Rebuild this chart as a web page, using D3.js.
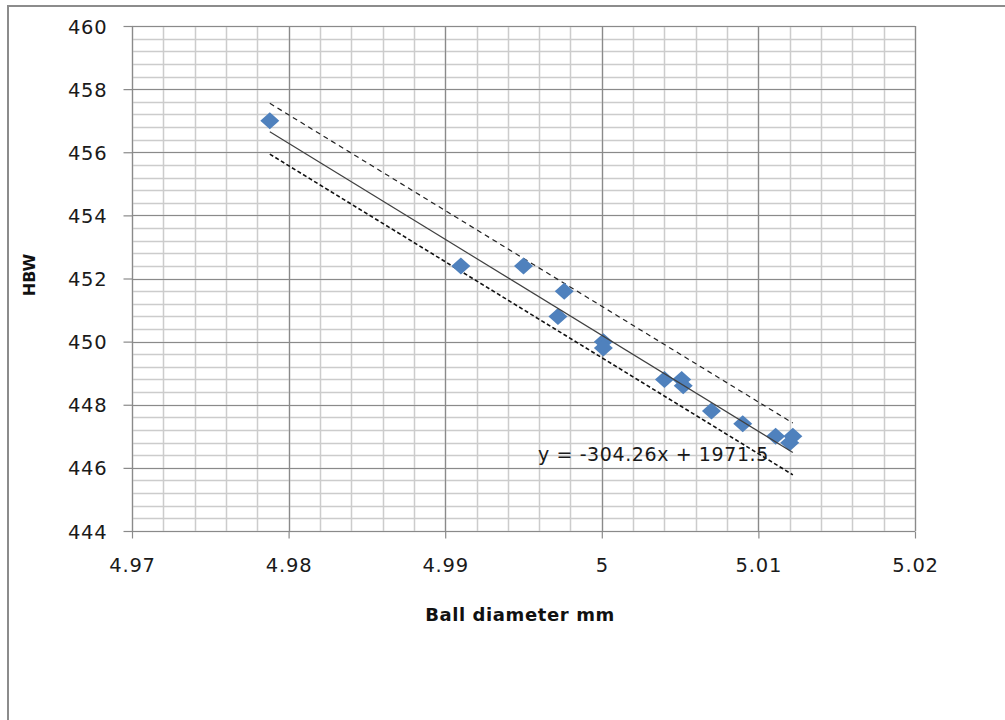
<!DOCTYPE html>
<html>
<head>
<meta charset="utf-8">
<script src="https://cdn.jsdelivr.net/npm/d3@7"></script>
<style>
  body { margin: 0; background: #fff; }
</style>
</head>
<body>
<div id="chart"></div>
<script>
// ball diameter (mm) vs hardness HBW
var diameters = [4.9788, 4.9910, 4.9950, 4.9976, 4.9972, 5.0001, 5.0001, 5.0040, 5.0051, 5.0052, 5.0070, 5.0090, 5.0111, 5.0120, 5.0122];
var hardness  = [457.0, 452.4, 452.4, 451.6, 450.8, 450.0, 449.8, 448.8, 448.8, 448.6, 447.8, 447.4, 447.0, 446.8, 447.0];

var xTicks = [4.97, 4.98, 4.99, 5, 5.01, 5.02];
var yTicks = [444, 446, 448, 450, 452, 454, 456, 458, 460];

// trendline y = slope*x + intercept
var slope = -304.26;
var intercept = 1971.5;
var equationLabel = "y = -304.26x + 1971.5";

// dashed band lines (x, y at both ends)
var upperBand = [[4.9788, 457.55], [5.0122, 447.42]];
var lowerBand = [[4.9788, 455.94], [5.0122, 445.78]];

var width = 1005;
var height = 720;

var svg = d3.select("#chart").append("svg")
    .attr("width", width)
    .attr("height", height);

// chart area border (runs off the page right and bottom)
svg.append("path")
    .attr("d", "M8," + height + "V6H" + width)
    .attr("fill", "none")
    .attr("stroke", "#8c8c8c")
    .attr("stroke-width", 2);

var plotLeft = 132, plotRight = 915, plotTop = 26, plotBottom = 531;

var x = d3.scaleLinear().domain([4.97, 5.02]).range([plotLeft, plotRight]);
var y = d3.scaleLinear().domain([444, 460]).range([plotBottom, plotTop]);

// minor grid
var minorX = d3.range(0, 26).map(function (i) { return 4.97 + i * 0.002; });
var minorY = d3.range(0, 41).map(function (i) { return 444 + i * 0.4; });

svg.append("g").selectAll("line")
    .data(minorX)
    .enter().append("line")
    .attr("x1", function (d) { return Math.round(x(d)) + 0.5; })
    .attr("x2", function (d) { return Math.round(x(d)) + 0.5; })
    .attr("y1", plotTop)
    .attr("y2", plotBottom)
    .attr("stroke", "#cccccc")
    .attr("stroke-width", 1.5);

svg.append("g").selectAll("line")
    .data(minorY)
    .enter().append("line")
    .attr("x1", plotLeft)
    .attr("x2", plotRight)
    .attr("y1", function (d) { return Math.round(y(d)) + 0.5; })
    .attr("y2", function (d) { return Math.round(y(d)) + 0.5; })
    .attr("stroke", "#cccccc")
    .attr("stroke-width", 1.5);

// major grid
svg.append("g").selectAll("line")
    .data(xTicks)
    .enter().append("line")
    .attr("x1", function (d) { return Math.round(x(d)) + 0.5; })
    .attr("x2", function (d) { return Math.round(x(d)) + 0.5; })
    .attr("y1", plotTop)
    .attr("y2", plotBottom)
    .attr("stroke", "#8a8a8a")
    .attr("stroke-width", 1.2);

svg.append("g").selectAll("line")
    .data(yTicks)
    .enter().append("line")
    .attr("x1", plotLeft)
    .attr("x2", plotRight)
    .attr("y1", function (d) { return Math.round(y(d)) + 0.5; })
    .attr("y2", function (d) { return Math.round(y(d)) + 0.5; })
    .attr("stroke", "#8a8a8a")
    .attr("stroke-width", 1.2);

// axes
var xAxis = d3.axisBottom(x)
    .tickValues(xTicks)
    .tickSize(7)
    .tickPadding(20)
    .tickFormat(function (d) { return d3.format("")(+d.toFixed(2)); });

var yAxis = d3.axisLeft(y)
    .tickValues(yTicks)
    .tickSize(9)
    .tickPadding(16)
    .tickFormat(d3.format("d"));

var gx = svg.append("g")
    .attr("transform", "translate(0," + (plotBottom + 0.5) + ")")
    .call(xAxis);
var gy = svg.append("g")
    .attr("transform", "translate(" + (plotLeft + 0.5) + ",0)")
    .call(yAxis);

[gx, gy].forEach(function (g) {
  g.selectAll("path, line").attr("stroke", "#8a8a8a").attr("stroke-width", 1.2);
  g.selectAll("text")
    .attr("font-family", "DejaVu Sans, sans-serif")
    .attr("font-size", "19.5px")
    .attr("letter-spacing", "0.8px")
    .attr("fill", "#1a1a1a");
});
gx.select(".domain").remove();
gy.select(".domain").remove();
gy.selectAll("text").attr("dy", "0.36em");

// band lines
var line = d3.line()
    .x(function (d) { return x(d[0]); })
    .y(function (d) { return y(d[1]); });

svg.append("path")
    .datum(upperBand)
    .attr("d", line)
    .attr("fill", "none")
    .attr("stroke", "#222")
    .attr("stroke-width", 1.2)
    .attr("stroke-dasharray", "5,4");

svg.append("path")
    .datum(lowerBand)
    .attr("d", line)
    .attr("fill", "none")
    .attr("stroke", "#111")
    .attr("stroke-width", 1.6)
    .attr("stroke-dasharray", "4,2.5");

// points
var points = diameters.map(function (d, i) { return [d, hardness[i]]; });

svg.append("g").selectAll("path")
    .data(points)
    .enter().append("path")
    .attr("transform", function (d) { return "translate(" + x(d[0]) + "," + y(d[1]) + ")"; })
    .attr("d", "M0,-8.5L9.5,0L0,8.5L-9.5,0Z")
    .attr("fill", "#4f81bd");

// trendline over data range
var xExtent = d3.extent(diameters);
svg.append("path")
    .datum(xExtent.map(function (d) { return [d, slope * d + intercept]; }))
    .attr("d", line)
    .attr("fill", "none")
    .attr("stroke", "#404040")
    .attr("stroke-width", 1.2);

svg.append("text")
    .attr("x", 538)
    .attr("y", 461)
    .attr("font-family", "DejaVu Sans, sans-serif")
    .attr("font-size", "19px")
    .attr("letter-spacing", "0.6px")
    .attr("fill", "#1a1a1a")
    .text(equationLabel);

// axis titles
svg.append("text")
    .attr("x", 520)
    .attr("y", 621)
    .attr("text-anchor", "middle")
    .attr("font-family", "DejaVu Sans, sans-serif")
    .attr("font-weight", "bold")
    .attr("font-size", "18px")
    .attr("letter-spacing", "0.6px")
    .attr("fill", "#111")
    .text("Ball diameter mm");

svg.append("text")
    .attr("transform", "translate(35,275) rotate(-90)")
    .attr("text-anchor", "middle")
    .attr("font-family", "DejaVu Sans, sans-serif")
    .attr("font-weight", "bold")
    .attr("font-size", "16px")
    .attr("fill", "#111")
    .text("HBW");
</script>
</body>
</html>
